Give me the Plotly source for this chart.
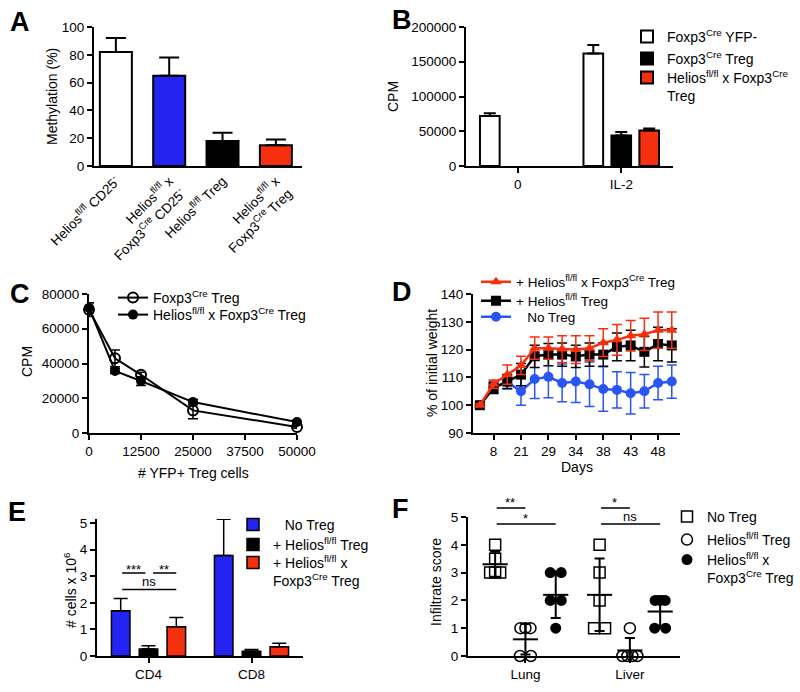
import statistics
import plotly.graph_objects as go

W, H = 800, 692
FONT = "Liberation Sans, Arial, Helvetica, sans-serif"
BLUE = "#2424f2"
RED = "#f5300f"
DBLUE = "#2a55f5"

# ---------------- Panel A ----------------
a_labels = ["Helios<sup>fl/fl</sup> CD25<sup>-</sup>",
            "Helios<sup>fl/fl</sup> x<br>Foxp3<sup>Cre</sup> CD25<sup>-</sup>",
            "Helios<sup>fl/fl</sup> Treg",
            "Helios<sup>fl/fl</sup> x<br>Foxp3<sup>Cre</sup> Treg"]
a_mean = [82, 65, 18, 15]
a_sd = [10, 13, 6, 4]

# ---------------- Panel B ----------------
b_cats = ["0", "IL-2"]
b_yfp = [72000, 162000]
b_yfp_sd = [4000, 12000]
b_treg = [None, 44000]
b_treg_sd = [0, 5000]
b_hxf = [None, 51000]
b_hxf_sd = [0, 3000]

# ---------------- Panel C ----------------
c_cells = [0, 6250, 12500, 25000, 50000]
c_treg = [71000, 43000, 33500, 13000, 3500]
c_treg_sd = [4000, 4800, 1500, 4800, 800]
c_hxf = [72000, 35700, 29900, 17800, 6300]
c_hxf_sd = [3000, 1500, 2500, 1500, 1000]
c_ticks = [0, 12500, 25000, 37500, 50000]

# ---------------- Panel D ----------------
d_idx = list(range(15))
d_tickvals = [1, 3, 5, 7, 9, 11, 13]
d_ticktext = ["8", "21", "29", "34", "38", "43", "48"]
d_hxf = [100, 107.6, 111, 114.3, 120.5, 120.5, 120.2, 120, 120.5, 122.5, 123.5, 125, 125.5, 127, 127]
d_hxf_sd = [0.5, 1.5, 3.5, 3.3, 4, 4, 4.8, 5, 4.5, 5, 5.5, 5.5, 5.8, 6.5, 6.5]
d_hel = [100, 106.2, 108.5, 111, 117.6, 118.2, 118.2, 117.6, 118.2, 118.2, 121, 121.5, 119.2, 122, 121.5]
d_hel_sd = [0.5, 2, 2.5, 4, 4, 4, 4.2, 4, 4.2, 4.2, 5, 5.5, 5.5, 6, 6]
d_no = [100, 106.5, 108.3, 105, 109.4, 110.2, 108, 108.5, 107.5, 105.8, 105.5, 104.3, 105, 108, 108.5]
d_no_sd = [0.5, 2, 2.5, 5, 7, 7.5, 6.8, 7.5, 8, 8, 6.5, 7.5, 6, 6, 6]

# ---------------- Panel E ----------------
e_cats = ["CD4", "CD8"]
e_no = [1.7, 3.78]
e_no_sd = [0.46, 1.36]
e_hel = [0.26, 0.175]
e_hel_sd = [0.13, 0.065]
e_hxf = [1.1, 0.35]
e_hxf_sd = [0.35, 0.13]

# ---------------- Panel F ----------------
f_organs = ["Lung", "Liver"]
f_notreg_lung = [4, 3.5, 3, 3, 3]
f_notreg_liver = [4, 3, 2, 1, 1]
f_helios_lung = [1, 1, 1, 0, 0]
f_helios_liver = [1, 0, 0, 0, 0]
f_hxf_lung = [3, 3, 2, 2, 1]
f_hxf_liver = [2, 2, 2, 1, 1]
F_YMAX = 5


def fx(p):
    return p / W


def fy(p):
    return 1 - p / H


TICKFONT = dict(family=FONT, size=13.5, color="black")


def ax_style(**kw):
    base = dict(showline=True, linecolor="black", linewidth=2, ticks="outside",
                ticklen=5, tickwidth=2, tickcolor="black", showgrid=False,
                zeroline=False, fixedrange=True, automargin=False, tickfont=TICKFONT)
    base.update(kw)
    return base


fig = go.Figure()
legends = {}
_leg_n = [1]


def add_legend(trace, text_x, row_y, size=14):
    _leg_n[0] += 1
    lid = "legend%d" % _leg_n[0]
    legends[lid] = dict(x=fx(text_x - 40), y=fy(row_y), xanchor="left", yanchor="middle",
                        bgcolor="rgba(0,0,0,0)", valign="top",
                        font=dict(family=FONT, size=size, color="black"))
    trace.legend = lid
    trace.showlegend = True
    fig.add_trace(trace)


# ---- A
fig.add_trace(go.Bar(
    x=a_labels, y=a_mean, width=0.6, xaxis="x", yaxis="y", showlegend=False,
    marker=dict(color=["white", BLUE, "black", RED], line=dict(color="black", width=2)),
    error_y=dict(type="data", array=a_sd, arrayminus=[0] * len(a_sd), symmetric=False,
                 color="black", thickness=2, width=10)))

# ---- B
for ys, sd, col, name, off, row in [
        (b_yfp, b_yfp_sd, "white", "Foxp3<sup>Cre</sup> YFP-", -0.365, 37),
        (b_treg, b_treg_sd, "black", "Foxp3<sup>Cre</sup> Treg", -0.095, 59),
        (b_hxf, b_hxf_sd, RED, "Helios<sup>fl/fl</sup> x Foxp3<sup>Cre</sup><br>Treg", 0.175, 87)]:
    add_legend(go.Bar(
        x=b_cats, y=ys, width=0.19, offset=off, name=name, xaxis="x2", yaxis="y2",
        marker=dict(color=col, line=dict(color="black", width=2)),
        error_y=dict(type="data", array=sd, arrayminus=[0] * len(sd), symmetric=False,
                     color="black", thickness=2, width=6)), 667, row)

# ---- C
add_legend(go.Scatter(
    x=c_cells, y=c_treg, mode="lines+markers", name="Foxp3<sup>Cre</sup> Treg",
    xaxis="x3", yaxis="y3", cliponaxis=False,
    line=dict(color="black", width=2),
    marker=dict(symbol="circle-open", size=10, color="black", line=dict(width=2)),
    error_y=dict(type="data", array=c_treg_sd, color="black", thickness=1.5, width=5)),
    153, 298)
add_legend(go.Scatter(
    x=c_cells, y=c_hxf, mode="lines+markers",
    name="Helios<sup>fl/fl</sup> x Foxp3<sup>Cre</sup> Treg",
    xaxis="x3", yaxis="y3", cliponaxis=False,
    line=dict(color="black", width=2),
    marker=dict(symbol="circle", size=10, color="black"),
    error_y=dict(type="data", array=c_hxf_sd, color="black", thickness=1.5, width=5)),
    153, 315)

# ---- D
for ys, sd, col, sym, name, row in [
        (d_no, d_no_sd, DBLUE, "circle", "\u00a0\u00a0\u00a0No Treg", 317),
        (d_hel, d_hel_sd, "black", "square", "+ Helios<sup>fl/fl</sup> Treg", 301),
        (d_hxf, d_hxf_sd, RED, "triangle-up", "+ Helios<sup>fl/fl</sup> x Foxp3<sup>Cre</sup> Treg", 282)]:
    add_legend(go.Scatter(
        x=d_idx, y=ys, mode="lines+markers", name=name, xaxis="x4", yaxis="y4",
        cliponaxis=False,
        line=dict(color=col, width=2.5),
        marker=dict(symbol=sym, size=10, color=col),
        error_y=dict(type="data", array=sd, color=col, thickness=1.5, width=5)),
        516, row, size=13.5)

# ---- E
for ys, sd, col, name, off, row in [
        (e_no, e_no_sd, BLUE, "\u00a0\u00a0\u00a0No Treg", -0.36, 525),
        (e_hel, e_hel_sd, "black", "+ Helios<sup>fl/fl</sup> Treg", -0.09, 545),
        (e_hxf, e_hxf_sd, RED, "+ Helios<sup>fl/fl</sup> x<br>Foxp3<sup>Cre</sup> Treg", 0.18, 572)]:
    add_legend(go.Bar(
        x=e_cats, y=ys, width=0.18, offset=off, name=name, xaxis="x5", yaxis="y5",
        marker=dict(color=col, line=dict(color="black", width=1.5)),
        error_y=dict(type="data", array=sd, arrayminus=[0] * len(sd), symmetric=False,
                     color="black", thickness=1.5, width=7)), 273, row)


# ---- F
def swarm(center, values):
    out = []
    seen = {}
    for v in values:
        n = values.count(v)
        i = seen.get(v, 0)
        seen[v] = i + 1
        step = 0.105 if n <= 2 else 0.048
        out.append(center + (i - (n - 1) / 2) * step)
    return out


F_OFF = [-0.29, 0.0, 0.29]
f_sets = [
    (f_notreg_lung, f_notreg_liver, "No Treg",
     dict(symbol="square-open", size=11, color="black", line=dict(width=1.5)), 517),
    (f_helios_lung, f_helios_liver, "Helios<sup>fl/fl</sup> Treg",
     dict(symbol="circle-open", size=11, color="black", line=dict(width=1.5)), 540),
    (f_hxf_lung, f_hxf_liver, "Helios<sup>fl/fl</sup> x<br>Foxp3<sup>Cre</sup> Treg",
     dict(symbol="circle", size=11, color="black"), 569),
]
for gi, (lung, liver, name, mk, row) in enumerate(f_sets):
    xs = swarm(0 + F_OFF[gi], lung) + swarm(1 + F_OFF[gi], liver)
    add_legend(go.Scatter(
        x=xs, y=lung + liver, mode="markers", name=name, xaxis="x6", yaxis="y6",
        cliponaxis=False, marker=mk), 707, row)
for gi, (lung, liver, name, mk, row) in enumerate(f_sets):
    for oi, vals in enumerate([lung, liver]):
        fig.add_trace(go.Scatter(
            x=[oi + F_OFF[gi]], y=[statistics.mean(vals)], mode="markers",
            xaxis="x6", yaxis="y6", showlegend=False, cliponaxis=False,
            marker=dict(symbol="line-ew", size=18, color="black",
                        line=dict(color="black", width=2)),
            error_y=dict(type="data", array=[statistics.stdev(vals)], color="black",
                         thickness=2, width=5)))

# ---------------- annotations ----------------
ann = []


def label(t, x, y):
    ann.append(dict(text="<b>%s</b>" % t, x=fx(x), y=fy(y), xref="paper", yref="paper",
                    xanchor="left", yanchor="middle", showarrow=False,
                    font=dict(family=FONT, size=27, color="black")))


def title(t, x, y, angle=0):
    ann.append(dict(text=t, x=fx(x), y=fy(y), xref="paper", yref="paper",
                    xanchor="center", yanchor="middle", showarrow=False, textangle=angle,
                    font=dict(family=FONT, size=14, color="black")))


def sig(xr, yr, x0, x1, y, text, yshift):
    ann.append(dict(x=x1, y=y, ax=x0, ay=0, xref=xr, yref=yr, axref=xr, ayref="pixel",
                    showarrow=True, arrowhead=0, arrowwidth=1.5, arrowcolor="black",
                    text="", font=dict(size=1), standoff=0, startstandoff=0))
    ann.append(dict(x=(x0 + x1) / 2, y=y, xref=xr, yref=yr, text=text, showarrow=False,
                    yanchor="bottom", yshift=yshift,
                    font=dict(family=FONT, size=13, color="black")))


for t, x, y in [("A", 8, 22), ("B", 390, 20), ("C", 8, 294), ("D", 390, 292),
                ("E", 6, 512), ("F", 390, 509)]:
    label(t, x, y)

title("Methylation (%)", 52, 97, -90)
title("CPM", 393, 97, -90)
title("CPM", 27, 362, -90)
title("# YFP+ Treg cells", 193, 473)
title("% of initial weight", 432, 363, -90)
title("Days", 577, 467)
title("# cells x 10<sup>6</sup>", 70, 590, -90)
title("Infiltrate score", 436, 582, -90)

# significance bars (E in data units; F in fractions of the y-axis domain)
E_YMAX = 5.15
sig("x5", "y5 domain", -0.27, -0.03, 3.12 / E_YMAX, "***", -6)
sig("x5", "y5 domain", 0.03, 0.27, 3.12 / E_YMAX, "**", -6)
sig("x5", "y5 domain", -0.27, 0.27, 2.5 / E_YMAX, "ns", -2)
sig("x6", "y6 domain", F_OFF[0], F_OFF[1], 5.32 / F_YMAX, "**", -4)
sig("x6", "y6 domain", F_OFF[0], F_OFF[2], 4.75 / F_YMAX, "*", -4)
sig("x6", "y6 domain", 1 + F_OFF[0], 1 + F_OFF[1], 5.32 / F_YMAX, "*", -4)
sig("x6", "y6 domain", 1 + F_OFF[0], 1 + F_OFF[2], 4.75 / F_YMAX, "ns", -2)

fig.update_layout(
    width=W, height=H, margin=dict(l=0, r=0, t=0, b=0, autoexpand=False),
    paper_bgcolor="white", plot_bgcolor="white", barmode="overlay",
    font=dict(family=FONT, color="black"), showlegend=True,
    annotations=ann,
    xaxis=ax_style(domain=[fx(94), fx(302)], anchor="y", type="category",
                   range=[-0.41, 3.49], tickangle=-45, ticks=""),
    yaxis=ax_style(domain=[fy(166), fy(27)], anchor="x", range=[0, 100], dtick=20),
    xaxis2=ax_style(domain=[fx(466), fx(673)], anchor="y2", type="category",
                    range=[-0.5, 1.5]),
    yaxis2=ax_style(domain=[fy(166), fy(27)], anchor="x2", range=[0, 200000],
                    dtick=50000, tickformat="d"),
    xaxis3=ax_style(domain=[fx(89), fx(297)], anchor="y3", range=[0, 50000],
                    tickvals=c_ticks, tickformat="d"),
    yaxis3=ax_style(domain=[fy(433), fy(294)], anchor="x3", range=[0, 80000],
                    dtick=20000, tickformat="d"),
    xaxis4=ax_style(domain=[fx(473), fx(680)], anchor="y4", range=[-0.5, 14.6],
                    tickvals=d_tickvals, ticktext=d_ticktext),
    yaxis4=ax_style(domain=[fy(433), fy(294)], anchor="x4", range=[90, 140], dtick=10),
    xaxis5=ax_style(domain=[fx(97), fx(303)], anchor="y5", type="category",
                    range=[-0.5, 1.5]),
    yaxis5=ax_style(domain=[fy(656), fy(519)], anchor="x5", range=[0, E_YMAX], dtick=1),
    xaxis6=ax_style(domain=[fx(468), fx(680)], anchor="y6", range=[-0.55, 1.48],
                    tickvals=[0, 1], ticktext=f_organs),
    yaxis6=ax_style(domain=[fy(656), fy(517)], anchor="x6", range=[0, F_YMAX], dtick=1),
    **legends,
)

fig.write_html("out.html", config={"displayModeBar": False},
               post_script="document.body.style.margin='0';document.body.style.padding='0';")
